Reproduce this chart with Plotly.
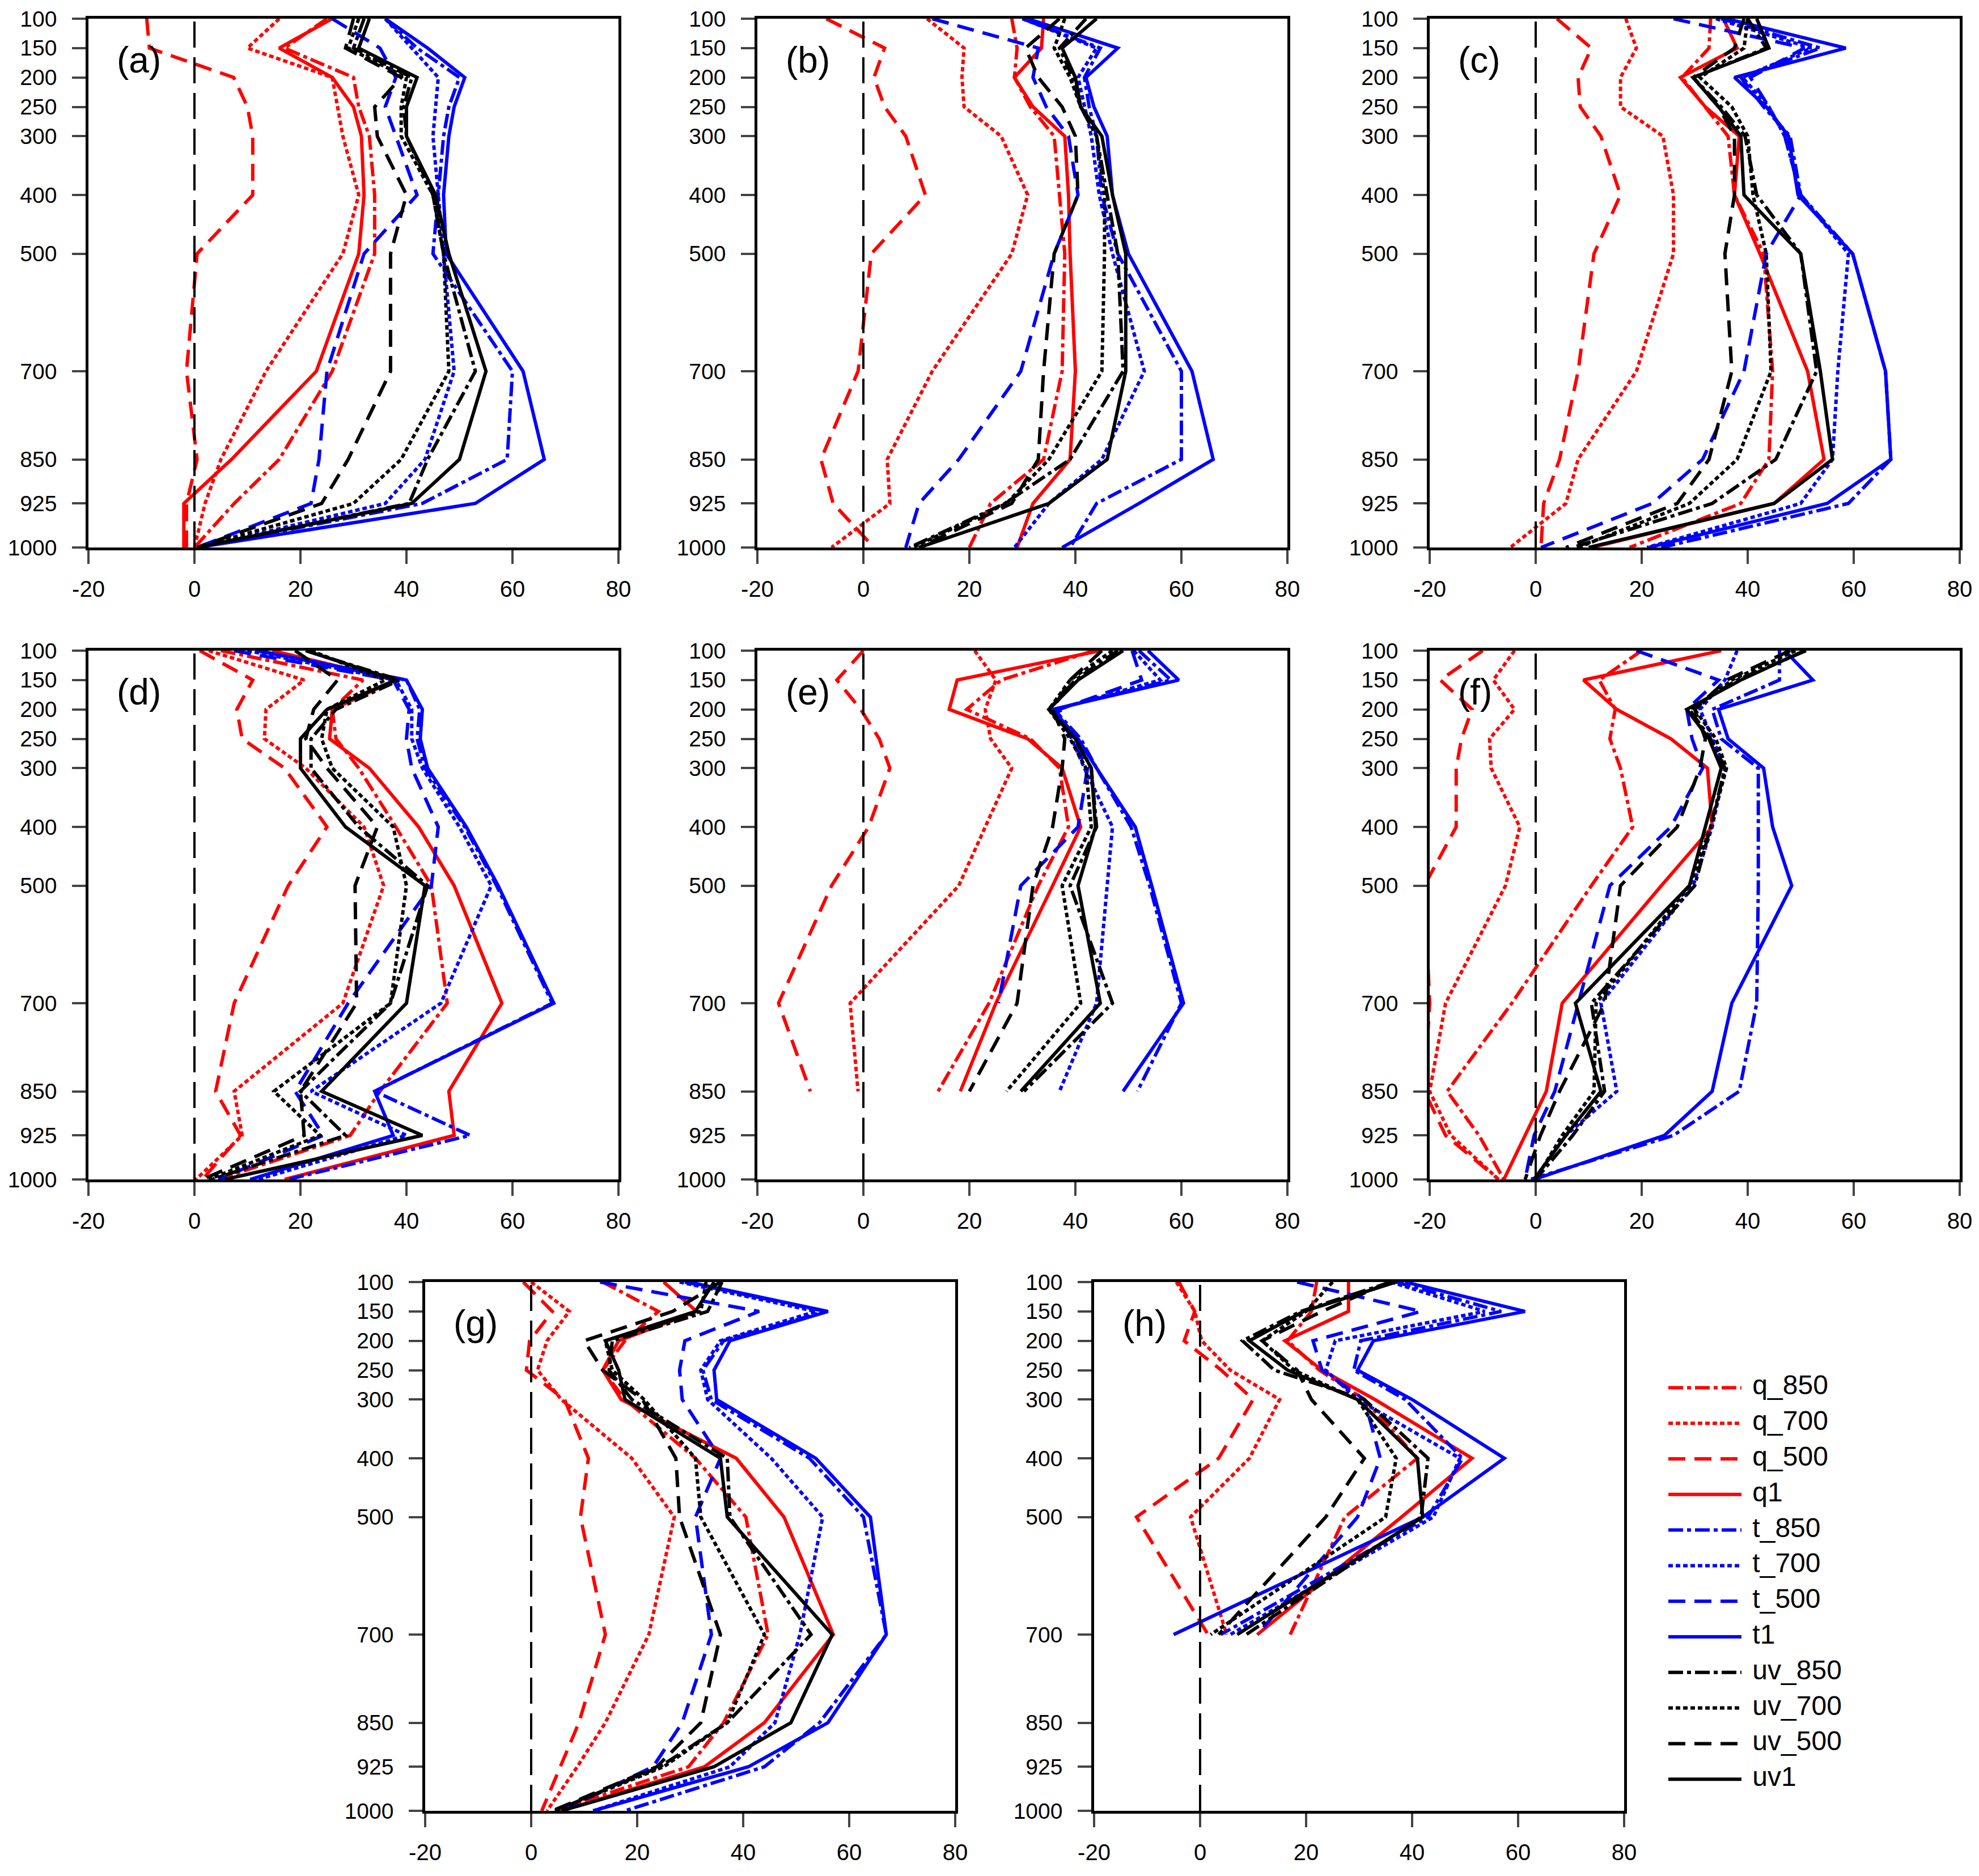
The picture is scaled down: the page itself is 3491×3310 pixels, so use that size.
import plotly.graph_objects as go

W, H = 3491, 3310
PAGE_PAD = 8  # default body margin of the html page

levels = [100, 150, 200, 250, 300, 400, 500, 700, 850, 925, 1000]
x_ticks = [-20, 0, 20, 40, 60, 80]
names = ["q_850", "q_700", "q_500", "q1",
         "t_850", "t_700", "t_500", "t1",
         "uv_850", "uv_700", "uv_500", "uv1"]

# each block: rows are the _850, _700, _500 and "1" experiments, columns follow `levels`
a_q = [
    [25, 17, 30, 31, 33, 34, 34, 26, 16, 7.5, 0],
    [16, 10, 26, 27, 28, 31, 28, 13.5, 5, 2, 0],
    [-9, -8.5, 7.4, 10, 11, 11, 0.5, -1.5, 0.5, -1.5, -1.5],
    [26, 16, 26, 30, 31.5, 32, 31, 23, 7, -2, -2],
]
a_t = [
    [36, 42, 50, 48, 47, 46, 45, 60, 59, 43, 0.5],
    [36, 41, 46, 45.5, 45, 46, 47, 49, 43.5, 36, 1],
    [26, 35, 38, 36, 38, 42, 32, 25, 23.5, 22, 0.5],
    [36, 44, 51, 49, 48, 47, 47.5, 62, 66, 53, 0.5],
]
a_uv = [
    [32, 30, 41, 39.5, 40, 45, 47, 53, 44, 40.5, 0.5],
    [31, 29, 40, 39, 39, 45, 47, 48, 39, 30, 0.5],
    [30, 28.5, 39, 34, 34.5, 40, 37, 37, 29, 24, 0.5],
    [33, 31, 42, 40, 40, 45.5, 48, 55, 50, 41, 0.5],
]

b_q = [
    [28, 29, 28.5, 31.5, 36, 37, 38, 37.5, 34, 24, 20],
    [12, 19, 18.6, 19, 26, 31, 28, 13, 4.5, 5, -6],
    [-7, 4, 2, 4, 8, 11.7, 1.5, -1, -8, -5.7, 2],
    [34, 33.6, 28.5, 32, 38, 38.7, 39, 40, 39, 32, 29],
]
b_t = [
    [30, 44.7, 41.7, 42.6, 44, 45, 48, 60, 60, 44, 39],
    [30, 44, 40.5, 41.7, 43, 44.5, 47, 53, 45, 35, 28.5],
    [13, 33, 32, 34.5, 38.7, 40.5, 36, 29.7, 18, 10.5, 8],
    [31, 48, 42, 43.5, 46, 47, 50, 62, 66, 52, 37.5],
]
b_uv = [
    [42, 37, 39.5, 41, 44, 46, 48, 49, 39, 26.7, 8.7],
    [38, 36, 39, 41, 44, 45.5, 45.5, 45, 35, 27, 9.3],
    [37, 30.6, 33, 37.5, 40, 40.5, 36, 34, 33, 28, 10.5],
    [44, 37.5, 40, 41, 45, 47, 49.5, 49.5, 46, 35, 10.5],
]

c_q = [
    [33, 32.7, 27.6, 32, 36.3, 37.5, 43, 44.7, 44, 38.7, 17.7],
    [17, 19, 16, 16, 24, 26, 26, 19, 8, 5.7, -4.8],
    [4, 10.5, 8, 8.4, 12.3, 16, 11, 8, 4.5, 1.5, 1],
    [35.4, 38, 27.3, 32, 38.4, 37.5, 42.3, 51.3, 54.4, 45, 10.5],
]
c_t = [
    [35, 53.7, 38.7, 43, 48, 50, 59.8, 66, 67, 59, 23.7],
    [34, 52, 39, 44, 47, 50, 59, 57, 56, 50, 21],
    [26, 50.7, 40.5, 44, 47, 50, 43.5, 39.3, 31.5, 22, 1],
    [36, 58.5, 37.5, 43.5, 47.7, 49.5, 59.8, 66, 67, 55, 21.3],
]
c_uv = [
    [40, 43.5, 29.7, 35, 39.5, 41.7, 50, 53, 45.3, 33.3, 7],
    [40, 39.3, 31, 37, 40, 41, 43.5, 44.4, 38, 29, 8],
    [39.3, 37.5, 29.7, 34.5, 37.5, 37.5, 35.7, 37, 32.7, 26.7, 5.7],
    [41.7, 44, 29.7, 34.5, 38.7, 39.3, 50, 53.7, 56, 45, 10],
]

d_q = [
    [5, 31.8, 26, 26.7, 31, 38, 44.7, 47.7, 35, 29.4, 4.5],
    [2.7, 20.7, 13.5, 13.2, 21, 32, 35.7, 28, 7.5, 9, 0.3],
    [1, 11, 8, 9, 17, 25, 17.7, 7.5, 4, 8.7, 1.5],
    [14.7, 38, 26, 25.5, 33, 42.3, 49, 58, 48, 49, 17],
]
d_t = [
    [12, 40, 42.5, 42, 43.5, 51, 57, 67.5, 34, 52, 17.7],
    [10, 38, 41, 41, 43, 50, 56, 46.5, 22, 40, 12],
    [7.5, 37.5, 40.5, 40, 41, 46, 44.7, 29, 19, 24.3, 4.5],
    [11.7, 40, 43, 42.6, 44, 51.3, 57.3, 67.8, 34, 37.5, 10.5],
]
d_uv = [
    [21, 38.7, 26.7, 22, 22, 31, 44, 37, 20, 28.5, 3.3],
    [22, 36, 25, 24, 26, 37.5, 40, 37, 15, 23.7, 2.7],
    [19, 27, 22.5, 21, 25, 34.5, 30.3, 30.6, 20, 20.7, 1.5],
    [21, 38, 25, 20, 20, 28.5, 43.5, 40, 24, 43, 5.7],
]

e_q = [
    [43.5, 26, 19.5, 31.5, 37, 38.7, 33, 23.7, 14.1, None, None],
    [21, 25, 23, 24, 28, 23, 18, -2.5, -1, None, None],
    [0, -5, -0.5, 3, 5, 1, -6, -16, -10, None, None],
    [44.7, 17.7, 16.2, 31, 37.5, 41, 35.7, 25, 18.3, None, None],
]
e_t = [
    [52, 58, 36, 41, 44, 50.5, 54, 60, 51.7, None, None],
    [51, 56, 36.3, 39.3, 41.7, 47, 46, 44, 37, None, None],
    [50.7, 52.5, 37, 39.3, 42.3, 40.5, 29.7, 25.5, None, None, None],
    [53.7, 59.5, 35.7, 40.5, 44, 51.3, 54.4, 60.4, 49, None, None],
]
e_uv = [
    [48, 40, 35, 40, 43, 44, 39, 47, 30.3, None, None],
    [47, 39, 35, 39, 42, 43, 37.5, 41, 27, None, None],
    [45, 39, 35.7, 38, 37.5, 35.7, 32, 29, 20, None, None],
    [49, 40.5, 35, 40, 43, 43.8, 40.5, 44.7, 29.7, None, None],
]

f_q = [
    [20, 12, 15, 14, 16, 18.3, 10.5, -4.5, -16.7, -10.7, -6],
    [-4, -8, -4, -8.7, -8.4, -3, -5.7, -17, -20, -16, -7],
    [-10, -18, -12, -14, -15, -15, -21, -20, -21, -17, -7],
    [35, 9, 15.3, 25.5, 32.4, 33.3, 23.7, 5, 2, -2, -6],
]
f_t = [
    [46, 46, 33.3, 35, 42, 42, 42, 41.7, 38.4, 26, -1],
    [38, 35.7, 31, 33.3, 35.7, 33.3, 29.7, 12.3, 15.3, 5.7, -0.3],
    [19, 34.5, 28.5, 29.5, 31.5, 25.5, 14, 8, 3.6, -0.3, -2],
    [47, 52.3, 34.5, 36.3, 43, 44.7, 48.3, 37, 33.3, 24.3, -0.3],
]
f_uv = [
    [51, 38, 29, 33, 35.7, 33, 30, 10.5, 13, 7, 0],
    [49, 37, 30, 34, 36, 33, 29, 11.4, 11, 5, 0],
    [48, 36, 30, 32, 31, 26.7, 16, 13, 4.5, 0.9, -2],
    [50.7, 38.7, 28.5, 32.7, 35, 32, 29, 7.5, 12.3, 5.7, -0.3],
]

g_q = [
    [13.5, 24, 17.7, 13.5, 17.7, 31, 40.5, 44.7, 36.3, 29.7, 4.5],
    [0, 7.2, 3, 1.2, 5.7, 19, 27, 22.2, 14, 8.7, 3],
    [-1.5, 4, -0.3, -0.9, 6.3, 10.8, 9.3, 14, 9, 5.5, 2],
    [25, 31.2, 16.5, 13.5, 17, 38.7, 47.7, 57, 44, 32.7, 5.7],
]
g_t = [
    [29, 55.5, 36.3, 32.4, 34, 52.5, 62.7, 67, 54.4, 44, 17.7],
    [28, 53.7, 35.7, 32, 33.3, 45.3, 55, 50.7, 46, 37.5, 11.7],
    [13, 43, 29, 28, 28.5, 35.7, 31, 34, 28.5, 23, 5.7],
    [29.7, 56, 37.5, 34.5, 35, 53.7, 64, 67, 56, 41, 11.7],
]
g_uv = [
    [36, 33.3, 15.3, 14.7, 19, 37, 37.5, 52.8, 37, 24.3, 4.5],
    [33, 32, 14, 15.3, 21.3, 31, 32, 44, 37, 25, 4.5],
    [35.7, 26.7, 10, 13.5, 21, 27.3, 28, 35.7, 32, 23.7, 4],
    [34.5, 31, 14, 16.5, 17.7, 35.7, 37, 56.8, 49, 34.5, 5.7],
]

h_q = [
    [22, 21, 16.5, 22.5, 31, 41, 27.3, 17, None, None, None],
    [-4.5, -1, 0.3, 5.7, 15, 9.3, -1.8, 5, None, None, None],
    [-4, -1, -3, 4, 10, 3.5, -12, 1.5, None, None, None],
    [28, 28, 16, 23, 33, 51.3, 38, 10.8, None, None, None],
]
h_t = [
    [37, 56.8, 30.3, 29, 38.7, 49.5, 43, 3.9, None, None, None],
    [36, 53.7, 25.5, 23.7, 29.7, 49, 44, 5.7, None, None, None],
    [18.3, 41.7, 21.3, 23, 31, 34, 29.7, 10.8, None, None, None],
    [38.7, 61.3, 32.7, 29.7, 40, 57.4, 42, -5, None, None, None],
]
h_uv = [
    [36, 19, 8, 14, 31, 43, 41.7, 8.7, None, None, None],
    [25, 20, 11.7, 17.7, 29.7, 37, 35, 2, None, None, None],
    [35.7, 23, 11.7, 18.3, 21, 31, 23.7, 3.5, None, None, None],
    [37, 19.5, 9.3, 16.5, 29.7, 41, 42, 7, None, None, None],
]

# panel tag, box left / top in page pixels, data
panels = [
    ("(a)", 156, 33, a_q, a_t, a_uv),
    ("(b)", 1336, 33, b_q, b_t, b_uv),
    ("(c)", 2522, 33, c_q, c_t, c_uv),
    ("(d)", 156, 1148, d_q, d_t, d_uv),
    ("(e)", 1336, 1148, e_q, e_t, e_uv),
    ("(f)", 2522, 1148, f_q, f_t, f_uv),
    ("(g)", 750, 2262, g_q, g_t, g_uv),
    ("(h)", 1930, 2262, h_q, h_t, h_uv),
]
BOX_W, BOX_H = 935, 933

colors = ["#ff0000", "#0000ff", "#000000"]
dashes = ["26px,7px,7px,7px", "8px,5px", "30px,16px", "solid"]
LW = 6
FONT = "Liberation Sans, Arial, sans-serif"

fig = go.Figure()

for i, (tag, left, top, q, t, uv) in enumerate(panels):
    n = "" if i == 0 else str(i + 1)
    xref, yref = "x" + n, "y" + n
    left, top = left - PAGE_PAD, top - PAGE_PAD
    for fam, block in enumerate([q, t, uv]):
        for k, vals in enumerate(block):
            fig.add_trace(go.Scatter(
                x=vals, y=levels, xaxis=xref, yaxis=yref,
                mode="lines", showlegend=False, connectgaps=False,
                line=dict(color=colors[fam], width=LW, dash=dashes[k]),
                name=names[fam * 4 + k], hoverinfo="skip"))

    fig.update_layout(**{
        "xaxis" + n: dict(
            domain=[left / W, (left + BOX_W) / W], anchor=yref, automargin=False,
            range=[-20, 80], tickvals=x_ticks, ticktext=[str(v) for v in x_ticks],
            ticks="outside", ticklen=24, tickwidth=4, showline=True, mirror=True,
            linewidth=4.5, linecolor="black", showgrid=False, zeroline=False,
            ticklabelstandoff=10, tickfont=dict(size=40, color="black", family=FONT)),
        "yaxis" + n: dict(
            domain=[1 - (top + BOX_H) / H, 1 - top / H], anchor=xref, automargin=False,
            range=[1000, 100], tickvals=levels, ticktext=[str(v) for v in levels],
            ticks="outside", ticklen=24, tickwidth=4, showline=True, mirror=True,
            linewidth=4.5, linecolor="black", showgrid=False, zeroline=False,
            ticklabelstandoff=19, tickfont=dict(size=39, color="black", family=FONT)),
    })
    fig.add_shape(type="line", xref=xref, yref=yref + " domain",
                  x0=0, x1=0, y0=0, y1=1,
                  line=dict(color="black", width=4, dash="46px,17px"))
    fig.add_annotation(text=tag, xref=xref + " domain", yref=yref + " domain",
                       x=0.051, y=0.922, xanchor="left", yanchor="middle",
                       showarrow=False, font=dict(size=64, color="black", family=FONT))

# legend drawn on its own hidden axis, one row per series
leg_x0, leg_top, leg_row = 2943 - PAGE_PAD, 2417 - PAGE_PAD, 62.8
leg_len = 129
fig.update_layout(
    xaxis9=dict(domain=[leg_x0 / W, (leg_x0 + 380) / W], range=[0, 380 / leg_len],
                visible=False, anchor="y9", fixedrange=True, automargin=False),
    yaxis9=dict(domain=[1 - (leg_top + 12 * leg_row) / H, 1 - leg_top / H],
                range=[11.5, -0.5], visible=False, anchor="x9", fixedrange=True,
                automargin=False),
)
for j, nm in enumerate(names):
    fam, k = divmod(j, 4)
    fig.add_trace(go.Scatter(
        x=[0, 1], y=[j, j], xaxis="x9", yaxis="y9", mode="lines",
        line=dict(color=colors[fam], width=LW, dash=dashes[k]),
        showlegend=False, hoverinfo="skip"))
    fig.add_trace(go.Scatter(
        x=[1.15], y=[j], xaxis="x9", yaxis="y9", mode="text", text=[nm],
        textposition="middle right",
        textfont=dict(size=48, color="black", family=FONT),
        showlegend=False, hoverinfo="skip"))

fig.update_layout(
    width=W, height=H, autosize=False,
    margin=dict(l=0, r=0, t=0, b=0, autoexpand=False),
    paper_bgcolor="white", plot_bgcolor="white",
    showlegend=False,
)

fig.write_html("out.html")
